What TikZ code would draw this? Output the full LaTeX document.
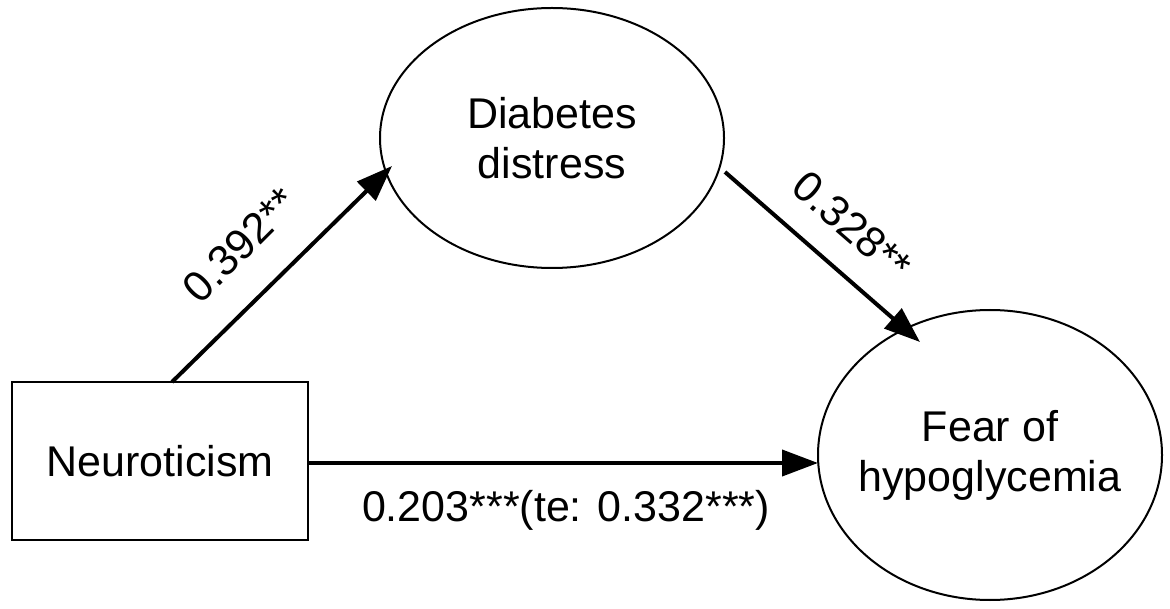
\documentclass[tikz,border=0pt]{standalone}
\usepackage{fontspec}
\setmainfont{Liberation Sans}
\usetikzlibrary{shapes.geometric,arrows.meta}
\begin{document}
\begin{tikzpicture}[x=1pt,y=-1pt,
  txt/.style={font=\fontsize{43}{50}\selectfont,align=center,inner sep=0pt},
  conn/.style={line width=4pt,-{Triangle[length=36pt,width=26pt]}},
  box/.style={draw,line width=2pt},
  ell/.style={draw,ellipse,line width=2pt,inner sep=0pt}]
\useasboundingbox (0,0) rectangle (1170,609);
\node[box,minimum width=296pt,minimum height=158pt,txt] (neu) at (160,461) {Neuroticism};
\node[ell,minimum width=344pt,minimum height=260pt] (dd) at (552,138) {};
\node[txt] (ddt) at (dd.center) {Diabetes\\distress};
\node[ell,minimum width=344pt,minimum height=290pt] (fh) at (990,455) {};
\node[txt] (fht) at (fh.center) {Fear of\\hypoglycemia};
\coordinate (a1) at (172,382);
\coordinate (a2) at (392,166);
\coordinate (b1) at (725,172);
\coordinate (b2) at (920,342);
\draw[conn] (a1) -- (a2);
\draw[conn] (b1) -- (b2);
\draw[conn] (neu.east |- 0,463) -- (818,463);
\node[txt,rotate=45] (l1) at (240,245) {0.392**};
\node[txt,rotate=-41] (l2) at (852,226) {0.328**};
\node[txt] (l3) at (566,510) {0.203***(te: 0.332***)};
\end{tikzpicture}
\end{document}
